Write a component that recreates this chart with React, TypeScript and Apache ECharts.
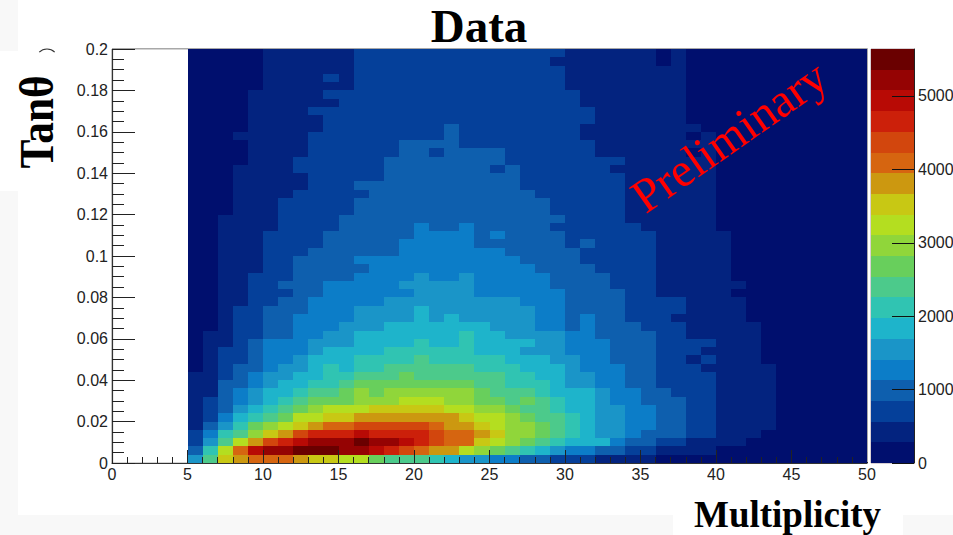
import React, { useEffect, useRef } from "react";
import * as echarts from "echarts";

// Colour scale of the Z axis, lowest bin first.
const palette = [
  "#000F6E", "#03237F", "#05409A", "#0E5FAE", "#0C7DC8", "#1A95C8", "#1EB4CB", "#30C4B2",
  "#4CCA8B", "#68CF5C", "#90D63A", "#B4DE20", "#C8C814", "#CC9810", "#D66510", "#D2460D",
  "#CC200A", "#B80A05", "#950303", "#6A0000",
];
const zBinWidth = 282;
const zTicks = [0, 1000, 2000, 3000, 4000, 5000];

// Contour bin (base 20) of every cell.
// Top row first (tanθ 0.2 downwards), columns run from multiplicity 5 to 50.
const cellBins = [
  "00000 111111 22222222222222 111111 0 1 000000000000",
  "00000 111111 2222222222222 1111111 0 1 000000000000",
  "00000 111111 22222222222222 11111111 000000000000",
  "00000 1111 2 1 22222222222222 11111111 000000000000",
  "00000 111111 22222222222222 11111111 000000000000",
  "0000 11111 22222222222222222 1111111 000000000000",
  "0000 111111 2222222222222222 1111111 000000000000",
  "0000 1111 2222222222222222222 111111 000000000000",
  "0000 11111 222222222222222222 111111 000000000000",
  "0000 11111 22222222 3 22222222 11111111 00000000000",
  "000 11111 222222222 3 22222222 1111111 0 1 0000000000",
  "0000 1111 222222 3333 222222222 11111111 0000000000",
  "0000 1111 222222 33 2 3333 222222 111111 0 1 0000000000",
  "0000 111 222222 33333333 22222222 111111 0000000000",
  "000 1111 222222 3333333 2 3 222222 1111111 0000000000",
  "000 11111 22222 333333333 2222222 111111 0000000000",
  "000 11111 222 33333333333 2222222 111111 0000000000",
  "000 1111 22222 33333333333 222222 111111 0000000000",
  "000 111 22222 3333333333333 22222 111111 0000000000",
  "000 111 22222 3333333333333 22222 111111 0000000000",
  "00 1111 2222 333333333333333 2222 111111 0000000000",
  "00 1111 2222 33333 4 33 4 33333 222222 11111 0000000000",
  "00 111 2222 333333 4444 3 4 3333 222222 11111 000000000",
  "00 111 2222 33333 44444 333333 2 3 2222 11111 000000000",
  "00 111 222 333333 4444444 33333 22222 11111 000000000",
  "00 111 22 3333 44444444444 3333 22222 11111 000000000",
  "00 111 22 33333 44444444444 3333 2222 11111 000000000",
  "00 11 222 3333 4444 5 44 5 44444 3333 222 11111 000000000",
  "00 11 22 333 44444 55555 44444 3333 222 111111 00000000",
  "00 11 222 33 444444 5555 444444 3333 22 11111 000000000",
  "00 11 22 33 44444 555555555 444 3333 2222 1111 00000000",
  "00 1 22 333 444 5555 6 5555555 44 3333 2222 1111 00000000",
  "00 1 22 33 4444 5555 6 5 6 55555 44 3 4 33 222 11111 00000000",
  "00 1 22 33 444 555 6666666 555 44 3 4 333 222 11111 0000000",
  "0 11 22 33 44 55 6666666 7 66 5555 44 3333 22 11111 0000000",
  "0 11 2 3 444 555 6666 7 66 7 6666 55 444 333 2222 111 0000000",
  "0 1 22 3 444 5 6666 777777 666 555 444 333 222 1111 0000000",
  "0 1 22 3 44 5 666 7777 8 77777 666 55 44 333 22 1 2 111 0000000",
  "0 1 2 33 4 55 6 7 6 77 888888 777 666 5 444 33 222 11111 000000",
  "11 2 3 4 55 66 77 888 9 888888 77 66 55 44 33 2222 1111 000000",
  "11 33 4 5 66 77 8 99999999 88 777 6 55 44 33 2222 1111 000000",
  "11 3 4 5 66 7 88 9 a 9 aaaaaa 9 888 7 666 5 44 33 222 1111 000000",
  "1 2 3 4 5 6 7 8 999 aaa bbb aa 99 8 9 8 7 66 5 44 333 22 1111 000000",
  "1 2 3 5 6 7 8 9 a bbb ccccc bb aa 9 88 7 66 55 44 33 22 1111 000000",
  "1 2 4 6 7 8 9 bb cc ddddddd c bb a 9 88 7 6 55 44 33 22 1111 000000",
  "1 3 5 7 9 a b c d ee fffff e dd c b aa 9 8 7 6 55 44 33 22 1111 000000",
  "2 4 7 8 a c d f ggg h gggg f ee d c aa 9 8 7 6 55 4 333 22 111 0000000",
  "2 5 8 b d f g h iii j ii h g f ee c b a 9 8 7 666 4 33 22 1111 00000000",
  "3 7 b e h ii jjj ii h g f e dd b a 9 8 7 6 5 44 33 22 1111 0000000000",
  "5 8 c d eee d cc bb 9 888 7 6 55 44 33 222 1111 00000000000000",
];

const firstMultiplicity = 5;
const tanBinWidth = 0.004;
const rowCount = cellBins.length;

const App = () => {
  const ref = useRef<HTMLDivElement>(null);
  useEffect(() => {
    document.body.style.margin = "0";
    document.body.style.overflow = "hidden";
    const chart = echarts.init(ref.current!, undefined, { renderer: "svg" });

    const cells: number[][] = [];
    cellBins.forEach((row, r) => {
      const bins = row.replace(/\s/g, "");
      for (let c = 0; c < bins.length; c++) {
        const bin = parseInt(bins[c], 20);
        cells.push([firstMultiplicity + c, (rowCount - 1 - r) * tanBinWidth, (bin + 0.5) * zBinWidth]);
      }
    });
    const scaleBins = palette.map((_, i) => [0, i * zBinWidth, (i + 0.5) * zBinWidth]);

    const labelFont = {
      fontFamily: "'Liberation Sans', Arial, sans-serif",
      fontSize: 16,
      color: "#222",
    };
    const colorOf = (v: number) => palette[Math.min(palette.length - 1, Math.floor(v / zBinWidth))];

    const rectItem = (w: number, h: number) => (_: any, api: any) => {
      const x = api.value(0);
      const y = api.value(1);
      const a = api.coord([x, y]);
      const b = api.coord([x + w, y + h]);
      const x0 = Math.round(a[0]);
      const x1 = Math.round(b[0]);
      const y0 = Math.round(b[1]);
      const y1 = Math.round(a[1]);
      return {
        type: "rect",
        shape: { x: x0, y: y0, width: x1 - x0, height: y1 - y0 },
        style: { fill: colorOf(api.value(2)) },
      };
    };

    chart.setOption({
      animation: false,
      backgroundColor: "#ffffff",
      grid: [
        { left: 112, top: 49, width: 755, height: 414, outerBoundsMode: "none", show: true, borderColor: "#a8a8a8", borderWidth: 1, backgroundColor: "transparent" },
        { left: 871, top: 49, width: 43, height: 414, outerBoundsMode: "none", show: true, borderColor: "#b0a0a8", borderWidth: 1, backgroundColor: "transparent" },
      ],
      xAxis: [
        {
          type: "value", gridIndex: 0, min: 0, max: 50, interval: 5, z: 10,
          splitLine: { show: false },
          axisLine: { onZero: false, lineStyle: { color: "#333", width: 1.2 } },
          axisTick: { inside: true, length: 13, lineStyle: { color: "#222", width: 1 } },
          minorTick: { show: true, splitNumber: 5, length: 6, lineStyle: { color: "#222", width: 1 } },
          axisLabel: { ...labelFont, margin: 3, showMinLabel: true, showMaxLabel: true },
        },
        { type: "value", gridIndex: 1, min: 0, max: 1, show: false },
      ],
      yAxis: [
        {
          type: "value", gridIndex: 0, min: 0, max: 0.2, interval: 0.02, z: 10,
          splitLine: { show: false },
          axisLine: { onZero: false, lineStyle: { color: "#333", width: 1.2 } },
          axisTick: { inside: true, length: 23, lineStyle: { color: "#222", width: 1 } },
          minorTick: { show: true, splitNumber: 4, length: 12, lineStyle: { color: "#222", width: 1 } },
          axisLabel: {
            ...labelFont, margin: 4, showMinLabel: true, showMaxLabel: true,
            formatter: (v: number) => String(+v.toFixed(2)),
          },
        },
        {
          type: "value", gridIndex: 1, position: "right", min: 0, max: palette.length * zBinWidth, z: 10,
          splitLine: { show: false },
          axisLine: { show: true, onZero: false, lineStyle: { color: "#222", width: 1 } },
          axisTick: { show: true, inside: true, length: 22, customValues: zTicks, lineStyle: { color: "#111", width: 1 } },
          minorTick: { show: false },
          axisLabel: { ...labelFont, margin: 4, customValues: zTicks, hideOverlap: false, formatter: (v: number) => String(v) },
        },
      ],
      series: [
        {
          type: "custom", xAxisIndex: 0, yAxisIndex: 0, clip: false,
          encode: { x: 0, y: 1 },
          data: cells,
          renderItem: rectItem(1, tanBinWidth),
        },
        {
          type: "custom", xAxisIndex: 1, yAxisIndex: 1, clip: false,
          encode: { x: 0, y: 1 },
          data: scaleBins,
          renderItem: rectItem(1, zBinWidth),
        },
      ],
      graphic: [
        { type: "rect", z: -10, silent: true, shape: { x: 0, y: 0, width: 18, height: 535 }, style: { fill: "#f8f8f8" } },
        { type: "rect", z: -10, silent: true, shape: { x: 0, y: 515, width: 953, height: 20 }, style: { fill: "#f8f8f8" } },
        { type: "rect", z: -9, silent: true, shape: { x: 0, y: 51, width: 56, height: 140 }, style: { fill: "#ffffff" } },
        { type: "rect", z: -9, silent: true, shape: { x: 673, y: 515, width: 230, height: 20 }, style: { fill: "#ffffff" } },
        {
          type: "polyline", z: 20, silent: true,
          shape: { points: [[112, 48.5], [867.5, 48.5], [867.5, 462]] },
          style: { stroke: "#a8a8a8", lineWidth: 1, fill: "none" },
        },
        {
          type: "arc", z: 20, silent: true,
          shape: { cx: 47, cy: 60, r: 11, startAngle: -2.35, endAngle: -0.8, clockwise: true },
          style: { stroke: "#333", lineWidth: 1.2, fill: "none" },
        },
        {
          type: "text", z: 20, x: 479, y: 26,
          style: { text: "Data", fill: "#000", font: "bold 47px 'Liberation Serif', serif", textAlign: "center", textVerticalAlign: "middle" },
        },
        {
          type: "text", z: 20, x: 787.5, y: 514,
          style: { text: "Multiplicity", fill: "#000", font: "bold 37px 'Liberation Serif', serif", textAlign: "center", textVerticalAlign: "middle" },
        },
        {
          type: "text", z: 20, x: 36.5, y: 122, rotation: Math.PI / 2, scaleX: 0.9,
          style: { text: "Tanθ", fill: "#000", font: "bold 48px 'Liberation Serif', serif", textAlign: "center", textVerticalAlign: "middle" },
        },
        {
          type: "text", z: 20, x: 729, y: 136, rotation: (35 * Math.PI) / 180,
          style: { text: "Preliminary", fill: "#ff0000", font: "48px 'Liberation Serif', serif", textAlign: "center", textVerticalAlign: "middle" },
        },
      ],
    });
    return () => chart.dispose();
  }, []);
  return <div ref={ref} style={{ position: "absolute", left: 0, top: 0, width: 953, height: 535 }} />;
};

export default App;
